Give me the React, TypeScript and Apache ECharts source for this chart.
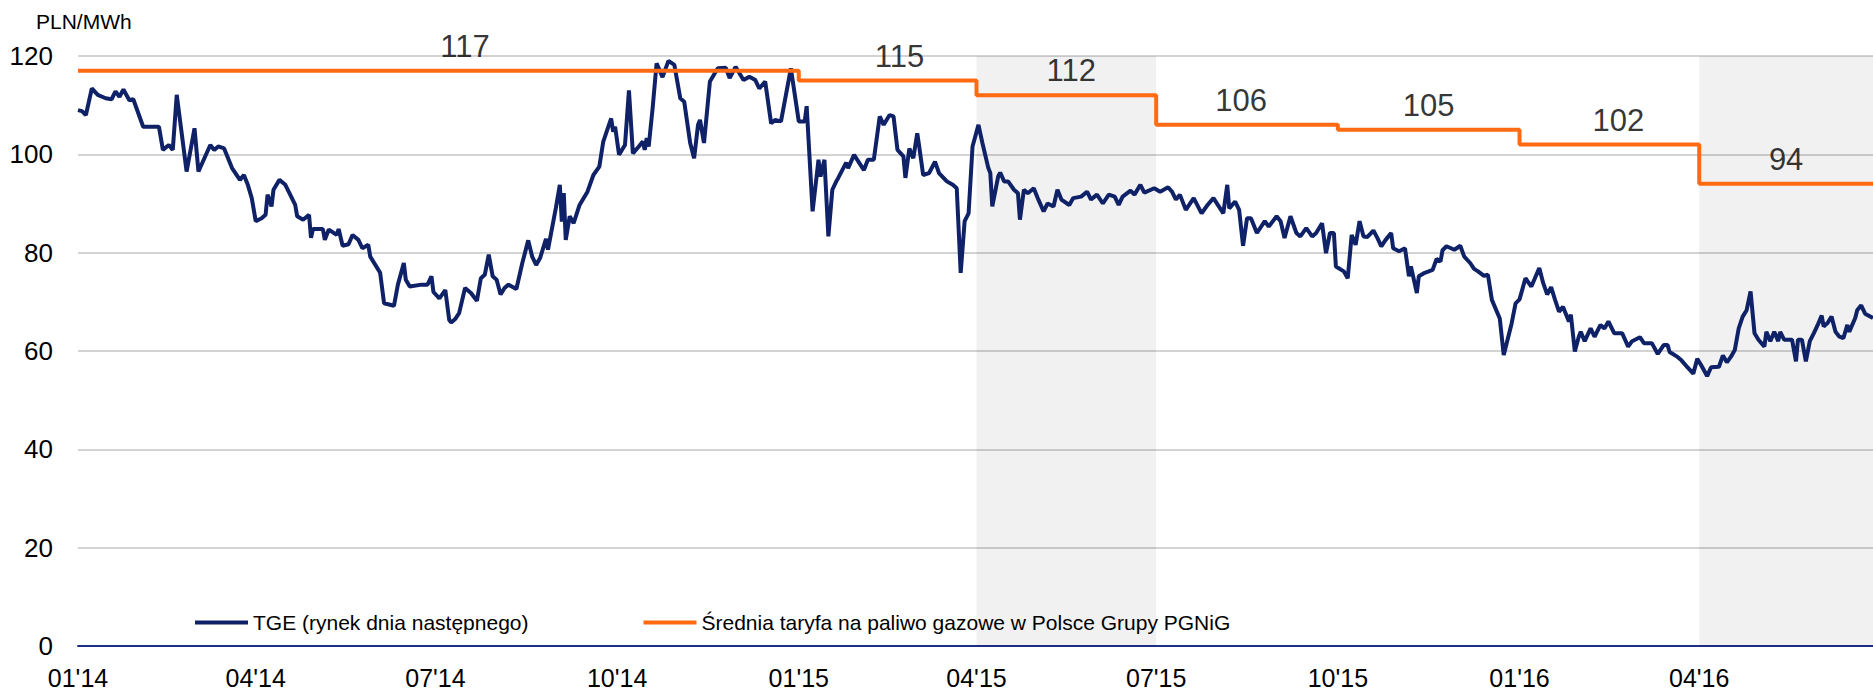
import React, { useEffect, useRef } from "react";
import * as echarts from "echarts";

// ---- data ----
const baseDate = "2014-01-01";
const axisEndDate = "2016-06-28";
const quarterTicks = [
  "2014-01-01", "2014-04-01", "2014-07-01", "2014-10-01",
  "2015-01-01", "2015-04-01", "2015-07-01", "2015-10-01",
  "2016-01-01", "2016-04-01",
];
const shadedRanges = [
  ["2015-04-01", "2015-07-01"],
  ["2016-04-01", "2016-06-28"],
];

const tariffName = "Średnia taryfa na paliwo gazowe w Polsce Grupy PGNiG";
const tariffStartDates = ["2014-01-01", "2015-01-01", "2015-04-01", "2015-07-01", "2015-10-01", "2016-01-01", "2016-04-01"];
const tariffValues = [117, 115, 112, 106, 105, 102, 94];
const tariffLabelDates = ["2014-07-16", "2015-02-21", "2015-05-19", "2015-08-13", "2015-11-16", "2016-02-20", "2016-05-15"];

const tgeName = "TGE (rynek dnia następnego)";
// day offsets from 2014-01-01
const tgeDays = [
  0, 2, 4, 7, 10, 14, 17, 19, 21, 23, 26, 28, 33, 41, 43, 46, 48, 50, 55, 59,
  61, 67, 69, 71, 74, 78, 82, 84, 86, 88, 90, 93, 95, 96, 98, 99, 102, 105, 110, 111,
  114, 117, 118, 119, 124, 125, 127, 131, 132, 134, 137, 139, 142, 144, 147, 148, 153, 155, 160, 162,
  165, 166, 168, 174, 177, 179, 180, 183, 186, 188, 189, 191, 193, 196, 199, 202, 204, 206, 208, 210,
  212, 214, 216, 218, 222, 225, 228, 230, 232, 234, 237, 238, 242, 244, 245, 246, 247, 249, 251, 254,
  258, 261, 264, 266, 270, 271, 272, 274, 277, 279, 281, 284, 286, 287, 288, 289, 291, 293, 296, 299,
  302, 305, 307, 310, 312, 314, 315, 317, 320, 324, 328, 330, 333, 337, 340, 343, 345, 348, 351, 353,
  356, 361, 365, 368, 369, 372, 375, 376, 378, 380, 382, 384, 385, 389, 390, 393, 398, 400, 403, 406,
  408, 411, 413, 415, 418, 419, 421, 423, 425, 426, 428, 431, 434, 436, 440, 443, 445, 447, 449, 451,
  453, 456, 458, 461, 462, 463, 466, 467, 469, 471, 474, 476, 477, 479, 481, 484, 486, 489, 491, 494,
  496, 498, 502, 504, 508, 511, 513, 516, 519, 522, 525, 527, 529, 533, 535, 538, 540, 545, 548, 552,
  554, 556, 558, 561, 565, 569, 572, 575, 580, 582, 583, 586, 588, 590, 592, 594, 597, 601, 603, 607,
  609, 611, 614, 617, 619, 622, 625, 627, 630, 632, 634, 636, 637, 641, 643, 645, 647, 649, 651, 653,
  656, 658, 660, 662, 665, 666, 669, 672, 674, 675, 678, 679, 682, 686, 688, 690, 691, 693, 697, 700,
  702, 705, 707, 709, 712, 714, 716, 720, 722, 726, 728, 730, 733, 736, 740, 742, 744, 746, 748, 750,
  752, 755, 756, 758, 760, 761, 763, 766, 768, 771, 773, 775, 778, 782, 785, 787, 791, 793, 797, 800,
  803, 805, 806, 810, 812, 815, 818, 820, 822, 825, 827, 831, 833, 835, 837, 839, 841, 843, 845, 847,
  849, 851, 854, 855, 857, 859, 861, 862, 864, 868, 870, 871, 873, 875, 877, 879, 881, 883, 884, 886,
  888, 890, 892, 894, 896, 897, 900, 901, 903, 905, 909,
];
const tgeValues = [
  109.0, 108.8, 108.0, 113.4, 112.1, 111.4, 111.2, 112.8, 111.7, 113.2, 111.0, 111.2, 105.6, 105.6, 100.9, 101.9, 100.9, 112.1, 96.5, 105.3,
  96.5, 101.9, 100.9, 101.6, 101.2, 97.2, 94.8, 95.8, 93.8, 91.1, 86.4, 87.0, 87.7, 91.8, 89.4, 92.8, 94.8, 93.8, 89.7, 87.4,
  86.7, 87.7, 83.0, 84.8, 84.8, 82.6, 84.7, 83.6, 84.8, 81.4, 81.7, 83.6, 82.6, 80.9, 81.6, 79.2, 75.9, 69.7, 69.2, 73.5,
  77.9, 74.5, 73.1, 73.5, 73.5, 75.2, 72.0, 70.7, 72.4, 66.3, 65.8, 66.5, 67.7, 72.8, 71.8, 70.2, 74.8, 75.5, 79.6, 75.2,
  74.5, 71.5, 72.8, 73.5, 72.6, 77.9, 82.5, 79.2, 77.5, 78.9, 82.8, 80.6, 89.1, 93.8, 86.3, 92.1, 82.6, 87.4, 86.0, 89.7,
  92.4, 95.8, 97.5, 102.6, 107.3, 104.6, 105.6, 99.9, 101.9, 113.0, 100.2, 101.6, 102.6, 100.9, 103.3, 101.6, 109.4, 118.5, 115.7, 119.0,
  118.2, 111.4, 110.7, 102.3, 99.2, 106.0, 107.0, 102.3, 114.8, 117.5, 117.6, 115.5, 117.8, 115.1, 115.8, 115.1, 113.4, 114.8, 106.3, 107.0,
  106.7, 117.5, 106.7, 106.7, 109.8, 88.4, 98.9, 95.5, 98.9, 83.3, 92.8, 94.5, 95.2, 98.3, 97.2, 99.9, 96.8, 98.9, 98.9, 107.7,
  106.0, 108.0, 107.7, 100.9, 99.6, 95.2, 101.2, 99.2, 104.3, 101.6, 95.8, 96.2, 98.5, 96.2, 94.5, 93.8, 93.1, 75.9, 86.4, 88.0,
  101.6, 106.0, 102.3, 97.2, 96.2, 89.4, 95.5, 96.3, 94.5, 94.5, 92.8, 92.1, 86.7, 92.8, 92.1, 93.1, 91.1, 88.4, 90.0, 89.4,
  92.8, 90.8, 89.7, 91.1, 91.4, 92.4, 90.8, 91.8, 90.0, 91.8, 91.4, 89.7, 91.4, 92.6, 91.8, 93.8, 92.2, 93.1, 92.4, 93.3,
  92.4, 90.8, 91.8, 88.7, 91.1, 88.0, 89.7, 91.1, 88.0, 93.8, 89.0, 90.4, 88.7, 81.4, 87.0, 87.0, 84.0, 86.4, 85.3, 87.4,
  86.4, 83.0, 87.4, 84.0, 83.3, 85.0, 83.3, 84.0, 86.0, 79.9, 84.0, 84.0, 77.2, 76.2, 74.8, 83.6, 81.6, 86.4, 83.3, 83.2,
  84.5, 83.0, 81.3, 82.5, 84.0, 80.9, 80.3, 80.9, 75.2, 77.2, 71.8, 75.2, 75.9, 76.5, 78.7, 78.2, 80.5, 81.3, 80.6, 81.4,
  79.2, 77.9, 76.7, 76.2, 75.3, 75.5, 70.4, 66.6, 59.2, 65.6, 69.7, 70.5, 74.8, 73.1, 76.9, 73.8, 71.5, 73.0, 70.4, 68.0,
  69.0, 66.0, 67.4, 59.9, 62.9, 63.9, 62.0, 64.6, 62.9, 65.3, 64.6, 66.0, 63.6, 63.6, 60.9, 62.0, 62.8, 61.6, 61.6, 59.4,
  61.2, 61.2, 59.8, 58.8, 58.1, 56.7, 55.4, 58.4, 57.1, 54.9, 56.7, 56.8, 59.1, 57.7, 58.8, 60.2, 64.6, 67.0, 68.3, 72.1,
  63.6, 62.3, 60.9, 63.9, 62.0, 63.9, 62.0, 63.9, 62.3, 62.3, 57.9, 62.3, 62.3, 57.9, 62.0, 63.6, 65.3, 67.2, 65.0, 65.7,
  67.0, 63.9, 62.9, 62.6, 65.3, 63.9, 66.7, 68.3, 69.3, 67.6, 66.7,
];

const yMin = 0;
const yMax = 120;
const yStep = 20;

// ---- helpers ----
const DAY = 86400000;
const baseMs = Date.parse(baseDate + "T00:00:00Z");
const dayOf = (s: string) => Math.round((Date.parse(s + "T00:00:00Z") - baseMs) / DAY);
const quarterLabel = (s: string) => s.slice(5, 7) + "'" + s.slice(2, 4);

const FONT = "'Liberation Sans', Arial, Helvetica, sans-serif";

export default function App() {
  const ref = useRef<HTMLDivElement>(null);

  useEffect(() => {
    if (!ref.current) return;
    const chart = echarts.init(ref.current, undefined, { renderer: "svg" });

    const tickDays = quarterTicks.map(dayOf);
    const tickLabelMap: Record<number, string> = {};
    quarterTicks.forEach((q) => (tickLabelMap[dayOf(q)] = quarterLabel(q)));
    const endDay = dayOf(axisEndDate);

    const tgeData = tgeDays.map((d, i) => [d, tgeValues[i]]);
    const tariffData = tariffStartDates.map((d, i) => [dayOf(d), tariffValues[i]]);
    tariffData.push([endDay, tariffValues[tariffValues.length - 1]]);
    const tariffLabelData = tariffLabelDates.map((d, i) => [dayOf(d), tariffValues[i]]);

    chart.setOption({
      animation: false,
      textStyle: { fontFamily: FONT },
      title: {
        text: "PLN/MWh",
        left: 31,
        top: 6,
        textStyle: { fontSize: 21, fontWeight: "normal", color: "#000", fontFamily: FONT },
      },
      grid: { left: 78, right: 0, top: 56, bottom: 45, containLabel: false },
      legend: {
        left: 190,
        top: 607,
        itemWidth: 53,
        itemHeight: 4,
        itemGap: 115,
        textStyle: { fontSize: 21, color: "#000", fontFamily: FONT },
        data: [
          { name: tgeName, icon: "rect" },
          { name: tariffName, icon: "rect" },
        ],
      },
      xAxis: {
        type: "value",
        min: 0,
        max: endDay,
        axisLine: { show: true, lineStyle: { color: "#1D2E86", width: 2 } },
        axisTick: { show: false },
        splitLine: { show: false },
        axisLabel: {
          customValues: tickDays,
          formatter: (v: number) => tickLabelMap[Math.round(v)] ?? "",
          fontSize: 25,
          lineHeight: 25,
          color: "#000",
          margin: 19,
          fontFamily: FONT,
        },
      },
      yAxis: {
        type: "value",
        min: yMin,
        max: yMax,
        interval: yStep,
        axisLine: { show: false },
        axisTick: { show: false },
        splitLine: { lineStyle: { color: "#D3D3D3", width: 2 } },
        axisLabel: { fontSize: 26, color: "#000", margin: 25, fontFamily: FONT },
      },
      series: [
        {
          name: tgeName,
          type: "line",
          data: tgeData,
          showSymbol: false,
          symbol: "none",
          lineStyle: { color: "#0F2167", width: 4 },
          itemStyle: { color: "#0F2167" },
          z: 2,
          markArea: {
            silent: true,
            itemStyle: { color: "rgba(0,0,0,0.055)" },
            data: shadedRanges.map(([a, b]) => [{ xAxis: dayOf(a) }, { xAxis: dayOf(b) }]),
          },
        },
        {
          name: tariffName,
          type: "line",
          step: "end",
          data: tariffData,
          showSymbol: false,
          symbol: "none",
          lineStyle: { color: "#FF6A13", width: 4 },
          itemStyle: { color: "#FF6A13" },
          z: 3,
        },
        {
          name: "tariffLabels",
          type: "scatter",
          data: tariffLabelData,
          symbolSize: 0,
          silent: true,
          z: 4,
          label: {
            show: true,
            position: "top",
            distance: 9,
            formatter: (p: any) => String(p.value[1]),
            fontSize: 31,
            color: "#000",
            fontFamily: FONT,
          },
        },
      ],
    });

    return () => chart.dispose();
  }, []);

  return (
    <div
      ref={ref}
      style={{ position: "fixed", left: 0, top: 0, width: 1873, height: 691, background: "#fff" }}
    />
  );
}
